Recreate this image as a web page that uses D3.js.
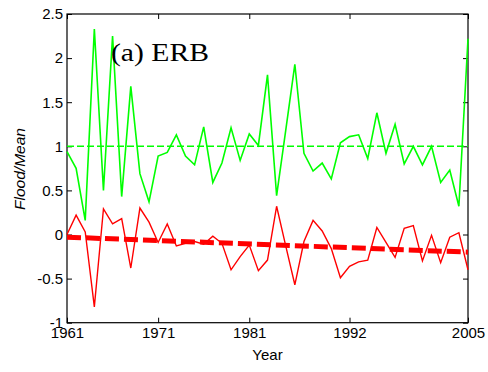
<!DOCTYPE html>
<html>
<head>
<meta charset="utf-8">
<script src="https://cdn.jsdelivr.net/npm/d3@7/dist/d3.min.js"></script>
<style>
  html, body { margin: 0; padding: 0; background: #fff; }
  svg { display: block; }
</style>
</head>
<body>
<svg id="chart" width="488" height="372"></svg>
<script>
// ---- data ----
const years = [1961,1962,1963,1964,1965,1966,1967,1968,1969,1970,
               1971,1972,1973,1974,1975,1976,1977,1978,1979,1980,
               1981,1982,1983,1984,1985,1986,1987,1988,1989,1990,
               1991,1992,1993,1994,1995,1996,1997,1998,1999,2000,
               2001,2002,2003,2004,2005];
const floodMean = [0.94,0.75,0.16,2.33,0.50,2.25,0.43,1.68,0.69,0.37,
                   0.89,0.93,1.13,0.89,0.79,1.22,0.59,0.81,1.21,0.84,
                   1.14,1.01,1.81,0.44,1.18,1.93,0.92,0.72,0.81,0.63,
                   1.04,1.11,1.13,0.86,1.38,0.92,1.25,0.80,1.00,0.79,
                   1.00,0.59,0.73,0.32,2.22];
const anomaly = [0.00,0.22,0.03,-0.82,0.29,0.12,0.18,-0.38,0.30,0.14,
                 -0.09,0.12,-0.13,-0.10,-0.08,-0.11,-0.02,-0.10,-0.40,-0.25,
                 -0.12,-0.41,-0.29,0.32,-0.13,-0.57,-0.08,0.16,0.04,-0.16,
                 -0.49,-0.36,-0.31,-0.29,0.08,-0.09,-0.26,0.07,0.10,-0.30,
                 -0.01,-0.32,-0.03,0.02,-0.40];
const trendYears = [1961, 2005];
const trendValues = [-0.03, -0.20];
const refLine = 1;
const xTicks = [1961, 1971, 1981, 1992, 2005];
const yTicks = [-1, -0.5, 0, 0.5, 1, 1.5, 2, 2.5];
const yTickLabels = ["-1", "-0.5", "0", "0.5", "1", "1.5", "2", "2.5"];
const titleText = "(a) ERB";
const xLabel = "Year";
const yLabel = "Flood/Mean";

// ---- layout ----
const L = 67, R = 468, T = 14, B = 322.7;
const svg = d3.select("#chart");
svg.append("rect").attr("width", 488).attr("height", 372).attr("fill", "#fff");

const x = d3.scaleLinear().domain([1961, 2005]).range([L, R]);
const y = d3.scaleLinear().domain([-1, 2.5]).range([B, T]);

const sansFont = "'Liberation Sans', Arial, Helvetica, sans-serif";

// axes (inward ticks, MATLAB style box)
const fmtY = d => yTickLabels[yTicks.indexOf(d)];
const gL = svg.append("g").attr("transform", `translate(${L},0)`)
  .call(d3.axisLeft(y).tickValues(yTicks).tickFormat(fmtY).tickSizeInner(-5).tickSizeOuter(0).tickPadding(4));
const gB = svg.append("g").attr("transform", `translate(0,${B})`)
  .call(d3.axisBottom(x).tickValues(xTicks).tickFormat(d3.format("d")).tickSizeInner(-5).tickSizeOuter(0).tickPadding(5));
const gR = svg.append("g").attr("transform", `translate(${R},0)`)
  .call(d3.axisRight(y).tickValues(yTicks).tickFormat("").tickSizeInner(-5).tickSizeOuter(0));
const gT = svg.append("g").attr("transform", `translate(0,${T})`)
  .call(d3.axisTop(x).tickValues(xTicks).tickFormat("").tickSizeInner(-5).tickSizeOuter(0));

[gL, gB, gR, gT].forEach(g => {
  g.selectAll(".domain").remove();
  g.selectAll("line").attr("stroke", "#000").attr("stroke-width", 1);
  g.selectAll("text").attr("fill", "#000").style("font-family", sansFont).style("font-size", "15px");
});

// frame
svg.append("rect").attr("x", L).attr("y", T).attr("width", R - L).attr("height", B - T)
  .attr("fill", "none").attr("stroke", "#000").attr("stroke-width", 1.2);

// reference line at 1
svg.append("line")
  .attr("x1", x(1961)).attr("x2", x(2005)).attr("y1", y(refLine)).attr("y2", y(refLine))
  .attr("stroke", "#00ff00").attr("stroke-width", 1.5).attr("stroke-dasharray", "7,3");

const line = d3.line().x((d, i) => x(years[i])).y(d => y(d));

svg.append("path").datum(floodMean).attr("d", line)
  .attr("fill", "none").attr("stroke", "#00ff00").attr("stroke-width", 1.6).attr("stroke-linejoin", "miter");

svg.append("path").datum(anomaly).attr("d", line)
  .attr("fill", "none").attr("stroke", "#ff0000").attr("stroke-width", 1.4);

// trend line
const trendLine = d3.line().x((d, i) => x(trendYears[i])).y(d => y(d));
svg.append("path").datum(trendValues).attr("d", trendLine)
  .attr("fill", "none").attr("stroke", "#ff0000").attr("stroke-width", 5).attr("stroke-dasharray", "14,5");

// title
svg.append("text").attr("x", 111).attr("y", 61)
  .attr("textLength", 98).attr("lengthAdjust", "spacingAndGlyphs")
  .style("font-family", "'Liberation Serif', 'Times New Roman', serif").style("font-size", "25px")
  .attr("fill", "#000").text(titleText);

// axis labels
svg.append("text").attr("x", (L + R) / 2).attr("y", 360).attr("text-anchor", "middle")
  .style("font-family", sansFont).style("font-size", "15px").attr("fill", "#000").text(xLabel);

svg.append("text").attr("transform", "translate(25,169) rotate(-90)").attr("text-anchor", "middle")
  .attr("textLength", 82).attr("lengthAdjust", "spacingAndGlyphs")
  .style("font-family", sansFont).style("font-size", "14px").style("font-style", "italic")
  .attr("fill", "#000").text(yLabel);
</script>
</body>
</html>
